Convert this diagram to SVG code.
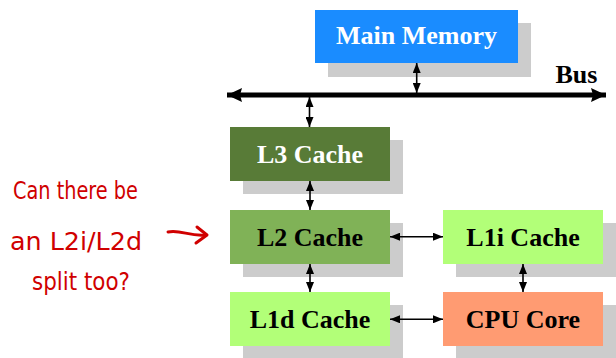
<svg xmlns="http://www.w3.org/2000/svg" width="616" height="358" viewBox="0 0 616 358">
<style>
.shadow{fill:#cccccc}
.lbl{font-family:"Liberation Serif","Times New Roman",serif;font-weight:bold;font-size:26px;text-anchor:middle}
.w{fill:#ffffff}
.k{fill:#000000}
.conn{stroke:#000;stroke-width:1.6;fill:none}
.hand{font-family:"DejaVu Sans","Noto Sans",sans-serif;fill:#d00000;font-size:24px}
</style>
<defs>
<marker id="ah" viewBox="0 0 10 8" refX="10" refY="4" markerWidth="10" markerHeight="8" markerUnits="userSpaceOnUse" orient="auto-start-reverse">
<path d="M0,0 L10,4 L0,8 z" fill="#000"/>
</marker>
<marker id="bh" viewBox="0 0 15 14" refX="15" refY="7" markerWidth="15" markerHeight="14" markerUnits="userSpaceOnUse" orient="auto-start-reverse">
<path d="M0,0 L15,7 L0,14 L2,7 z" fill="#000"/>
</marker>
</defs>
<rect width="616" height="358" fill="#ffffff"/>

<g id="main-memory">
<rect class="shadow" x="328" y="23" width="203" height="54"/>
<rect x="315" y="10" width="203" height="53" fill="#1a8cff"/>
<text class="lbl w" x="416.5" y="44">Main Memory</text>
</g>

<g id="bus">
<text class="lbl k" x="576.5" y="83">Bus</text>
</g>

<g id="l3-cache">
<rect class="shadow" x="243" y="140" width="160" height="54"/>
<rect x="230" y="127" width="160" height="54" fill="#587b37"/>
<text class="lbl w" x="310" y="163">L3 Cache</text>
</g>

<g id="l2-cache">
<rect class="shadow" x="243" y="223" width="160" height="54"/>
<rect x="230" y="210" width="160" height="54" fill="#80b257"/>
<text class="lbl k" x="310" y="246">L2 Cache</text>
</g>

<g id="l1d-cache">
<rect class="shadow" x="243" y="305" width="160" height="53"/>
<rect x="230" y="292" width="160" height="54" fill="#b2ff78"/>
<text class="lbl k" x="310" y="328">L1d Cache</text>
</g>

<g id="l1i-cache">
<rect class="shadow" x="456" y="223" width="160" height="54"/>
<rect x="443" y="210" width="160" height="54" fill="#b2ff78"/>
<text class="lbl k" x="523" y="246">L1i Cache</text>
</g>

<g id="cpu-core">
<rect class="shadow" x="456" y="305" width="160" height="53"/>
<rect x="443" y="292" width="160" height="54" fill="#ff9b72"/>
<text class="lbl k" x="523" y="328">CPU Core</text>
</g>

<g id="connectors">
<line x1="227" y1="95" x2="606" y2="95" stroke="#000" stroke-width="5" marker-start="url(#bh)" marker-end="url(#bh)"/>
<line class="conn" x1="416.7" y1="63" x2="416.7" y2="93" marker-start="url(#ah)" marker-end="url(#ah)"/>
<line class="conn" x1="309.5" y1="97" x2="309.5" y2="127" marker-start="url(#ah)" marker-end="url(#ah)"/>
<line class="conn" x1="310" y1="181" x2="310" y2="210" marker-start="url(#ah)" marker-end="url(#ah)"/>
<line class="conn" x1="310" y1="264" x2="310" y2="292" marker-start="url(#ah)" marker-end="url(#ah)"/>
<line class="conn" x1="523" y1="264" x2="523" y2="292" marker-start="url(#ah)" marker-end="url(#ah)"/>
<line class="conn" x1="390" y1="236.7" x2="443" y2="236.7" marker-start="url(#ah)" marker-end="url(#ah)"/>
<line class="conn" x1="390" y1="319.3" x2="443" y2="319.3" marker-start="url(#ah)" marker-end="url(#ah)"/>
</g>

<g id="annotation">
<text class="hand" x="13" y="199" textLength="125" lengthAdjust="spacingAndGlyphs">Can there be</text>
<text class="hand" x="10" y="250" textLength="132" lengthAdjust="spacingAndGlyphs">an L2i/L2d</text>
<text class="hand" x="32" y="290" textLength="98" lengthAdjust="spacingAndGlyphs">split too?</text>
<path d="M168,232 C180,229 190,237 206,235" stroke="#d00000" stroke-width="3" fill="none" stroke-linecap="round"/>
<path d="M197,227 L207,235 L196,243" stroke="#d00000" stroke-width="3" fill="none" stroke-linecap="round" stroke-linejoin="round"/>
</g>
</svg>
